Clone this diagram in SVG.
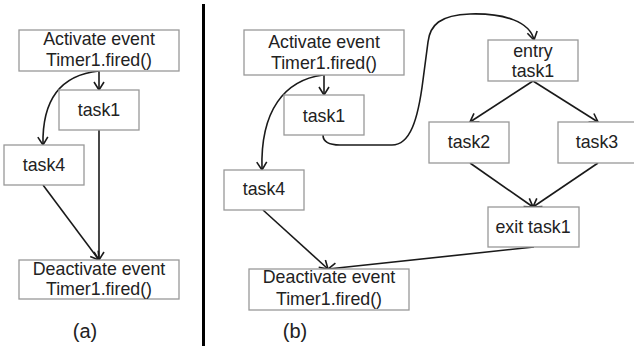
<svg xmlns="http://www.w3.org/2000/svg" width="634" height="352" viewBox="0 0 634 352">
<style>
.box{fill:#fff;stroke:#999;stroke-width:1.3}
.t{font-family:"Liberation Sans",Arial,sans-serif;font-size:17.8px;fill:#222;text-anchor:middle}
.lbl{font-size:20px}
.c{fill:none;stroke:#1a1a1a;stroke-width:1.6}
</style>
<defs>
<marker id="ah" markerUnits="userSpaceOnUse" markerWidth="14" markerHeight="14" refX="9" refY="6" orient="auto">
<path d="M1,1 L9,6 L1,11" fill="none" stroke="#1a1a1a" stroke-width="1.6"/>
</marker>
</defs>
<rect width="634" height="352" fill="#fff"/>
<line x1="203.5" y1="4" x2="203.5" y2="346" stroke="#000" stroke-width="3"/>
<g id="connectors">
<line class="c" x1="99" y1="71" x2="99" y2="90" marker-end="url(#ah)"/>
<path class="c" d="M99,71 C60,75 42,100 43,145" marker-end="url(#ah)"/>
<line class="c" x1="99" y1="130" x2="99" y2="260" marker-end="url(#ah)"/>
<line class="c" x1="43" y1="185" x2="99" y2="260" marker-end="url(#ah)"/>
<line class="c" x1="324" y1="75" x2="324" y2="95" marker-end="url(#ah)"/>
<path class="c" d="M323,75 C285,80 260,110 262,170" marker-end="url(#ah)"/>
<path class="c" d="M323,135 C323,142 330,145 340,145 L392,145 C410,145 418,120 423,80 L428,42 C430,25 440,15 470,14 C505,13 530,22 534,40" marker-end="url(#ah)"/>
<line class="c" x1="533" y1="81" x2="470" y2="122" marker-end="url(#ah)"/>
<line class="c" x1="533" y1="81" x2="598" y2="122" marker-end="url(#ah)"/>
<line class="c" x1="470" y1="163" x2="533" y2="207" marker-end="url(#ah)"/>
<line class="c" x1="598" y1="163" x2="533" y2="207" marker-end="url(#ah)"/>
<line class="c" x1="534" y1="247" x2="328" y2="269" marker-end="url(#ah)"/>
<line class="c" x1="263" y1="210" x2="328" y2="269" marker-end="url(#ah)"/>
</g>
<g id="a-activate"><rect class="box" x="19" y="30" width="160" height="41"/><text class="t" x="99" y="45">Activate event</text><text class="t" x="99" y="66">Timer1.fired()</text></g>
<g id="a-task1"><rect class="box" x="59" y="90" width="80" height="40"/><text class="t" x="99" y="116">task1</text></g>
<g id="a-task4"><rect class="box" x="4" y="145" width="80" height="40"/><text class="t" x="44" y="171">task4</text></g>
<g id="a-deactivate"><rect class="box" x="19" y="260" width="160" height="39"/><text class="t" x="99" y="275">Deactivate event</text><text class="t" x="99" y="295">Timer1.fired()</text></g>
<text class="t lbl" x="85" y="338">(a)</text>
<g id="b-activate"><rect class="box" x="244" y="30" width="160" height="45"/><text class="t" x="324" y="48">Activate event</text><text class="t" x="324" y="69">Timer1.fired()</text></g>
<g id="b-task1"><rect class="box" x="284" y="95" width="80" height="40"/><text class="t" x="324" y="122">task1</text></g>
<g id="b-task4"><rect class="box" x="224" y="170" width="80" height="40"/><text class="t" x="264" y="195">task4</text></g>
<g id="b-deactivate"><rect class="box" x="249" y="269" width="160" height="41"/><text class="t" x="329" y="283">Deactivate event</text><text class="t" x="329" y="305">Timer1.fired()</text></g>
<g id="b-entry"><rect class="box" x="488" y="40" width="90" height="41"/><text class="t" x="533" y="57">entry</text><text class="t" x="533" y="77">task1</text></g>
<g id="b-task2"><rect class="box" x="429" y="122" width="80" height="41"/><text class="t" x="469" y="148">task2</text></g>
<g id="b-task3"><rect class="box" x="558" y="122" width="80" height="41"/><text class="t" x="597" y="148">task3</text></g>
<g id="b-exit"><rect class="box" x="488" y="207" width="91" height="40"/><text class="t" x="533" y="233">exit task1</text></g>
<text class="t lbl" x="295" y="338">(b)</text>
</svg>
